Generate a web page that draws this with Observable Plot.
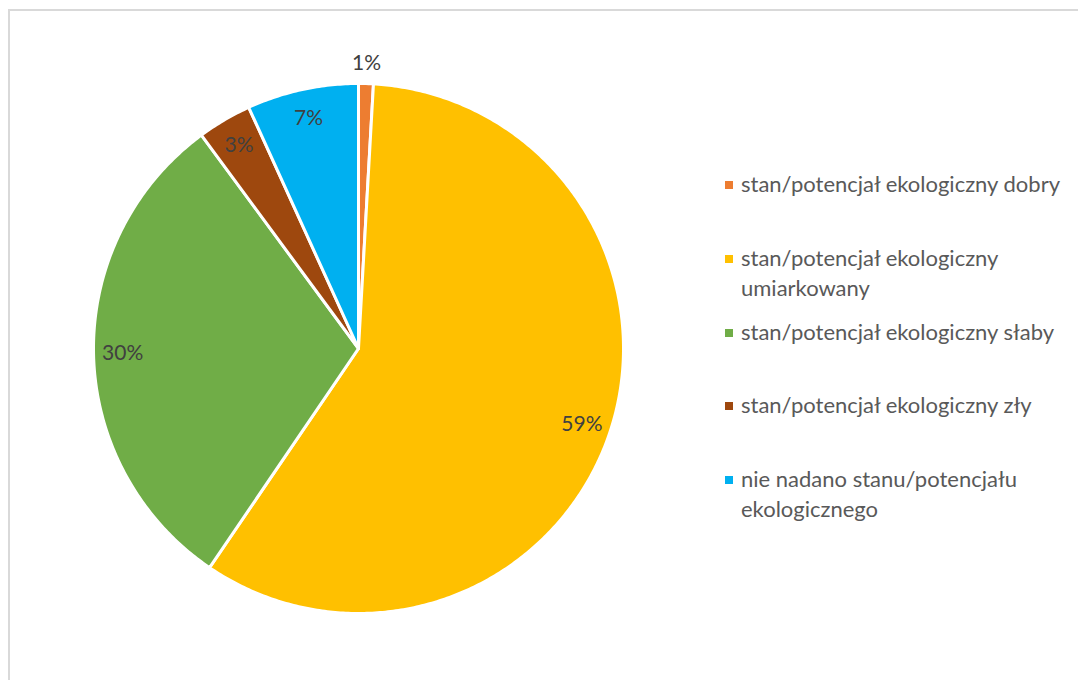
<!DOCTYPE html>
<html>
<head>
<meta charset="utf-8">
<script src="https://cdn.jsdelivr.net/npm/d3@7"></script>
<script src="https://cdn.jsdelivr.net/npm/@observablehq/plot@0.6"></script>
<style>
  html, body { margin: 0; padding: 0; background: #fff; }
  #wrap { position: relative; width: 1078px; height: 680px; overflow: hidden; font-family: Lato, "Open Sans", sans-serif; }
  #frame { position: absolute; left: 8px; top: 9px; width: 1200px; height: 800px; border: 2px solid #d9d9d9; box-sizing: border-box; }
  #chart { position: absolute; left: 0; top: 0; }
  #legend { position: absolute; left: 725px; top: 168px; width: 350px; }
  .item { height: 73.8px; display: flex; align-items: flex-start; }
  .sw { width: 8px; height: 8px; margin-top: 13px; margin-right: 8px; flex: none; }
  .lab { font-size: 22px; line-height: 30px; color: #595959; white-space: pre-line; margin-top: 1px; }
</style>
</head>
<body>
<div id="wrap">
  <div id="frame"></div>
  <div id="chart"></div>
  <div id="legend"></div>
</div>
<script>
const categories = [
  "stan/potencjał ekologiczny dobry",
  "stan/potencjał ekologiczny umiarkowany",
  "stan/potencjał ekologiczny słaby",
  "stan/potencjał ekologiczny zły",
  "nie nadano stanu/potencjału ekologicznego"
];
const legendLabels = [
  "stan/potencjał ekologiczny dobry",
  "stan/potencjał ekologiczny\numiarkowany",
  "stan/potencjał ekologiczny słaby",
  "stan/potencjał ekologiczny zły",
  "nie nadano stanu/potencjału\nekologicznego"
];
const values = [0.9, 58.6, 30.4, 3.3, 6.8];
const valueLabels = ["1%", "59%", "30%", "3%", "7%"];
const colors = ["#ED7D31", "#FFC000", "#70AD47", "#9E480E", "#00B0F0"];

const arcs = d3.pie().sort(null)(values);
const polys = [];
const labelPts = [];
arcs.forEach((a, i) => {
  const cat = categories[i];
  polys.push({cat, x: 0, y: 0});
  const n = Math.max(2, Math.ceil((a.endAngle - a.startAngle) / 0.01));
  for (let k = 0; k <= n; k++) {
    const t = a.startAngle + (a.endAngle - a.startAngle) * k / n;
    polys.push({cat, x: Math.sin(t), y: Math.cos(t)});
  }
  const mid = (a.startAngle + a.endAngle) / 2;
  const r = values[i] < 2 ? 1.075 : 0.89;
  labelPts.push({cat, text: valueLabels[i], x: r * Math.sin(mid), y: r * Math.cos(mid)});
});

const plot = Plot.plot({
  width: 1078,
  height: 680,
  margin: 0,
  x: {domain: [-1, 1], range: [93, 623], axis: null},
  y: {domain: [-1, 1], range: [613, 83], axis: null},
  color: {domain: categories, range: colors},
  style: {background: "transparent", fontFamily: "Lato, 'Open Sans', sans-serif"},
  marks: [
    Plot.line(polys, {x: "x", y: "y", z: "cat", fill: "cat", stroke: "white", strokeWidth: 3, curve: "linear-closed"}),
    Plot.text(labelPts, {x: "x", y: "y", text: "text", fill: "#404040", fontSize: 21})
  ]
});
document.getElementById("chart").appendChild(plot);

const legend = document.getElementById("legend");
categories.forEach((c, i) => {
  const item = document.createElement("div");
  item.className = "item";
  const sw = document.createElement("div");
  sw.className = "sw";
  sw.style.background = colors[i];
  const lab = document.createElement("div");
  lab.className = "lab";
  lab.textContent = legendLabels[i];
  item.appendChild(sw);
  item.appendChild(lab);
  legend.appendChild(item);
});
</script>
</body>
</html>
